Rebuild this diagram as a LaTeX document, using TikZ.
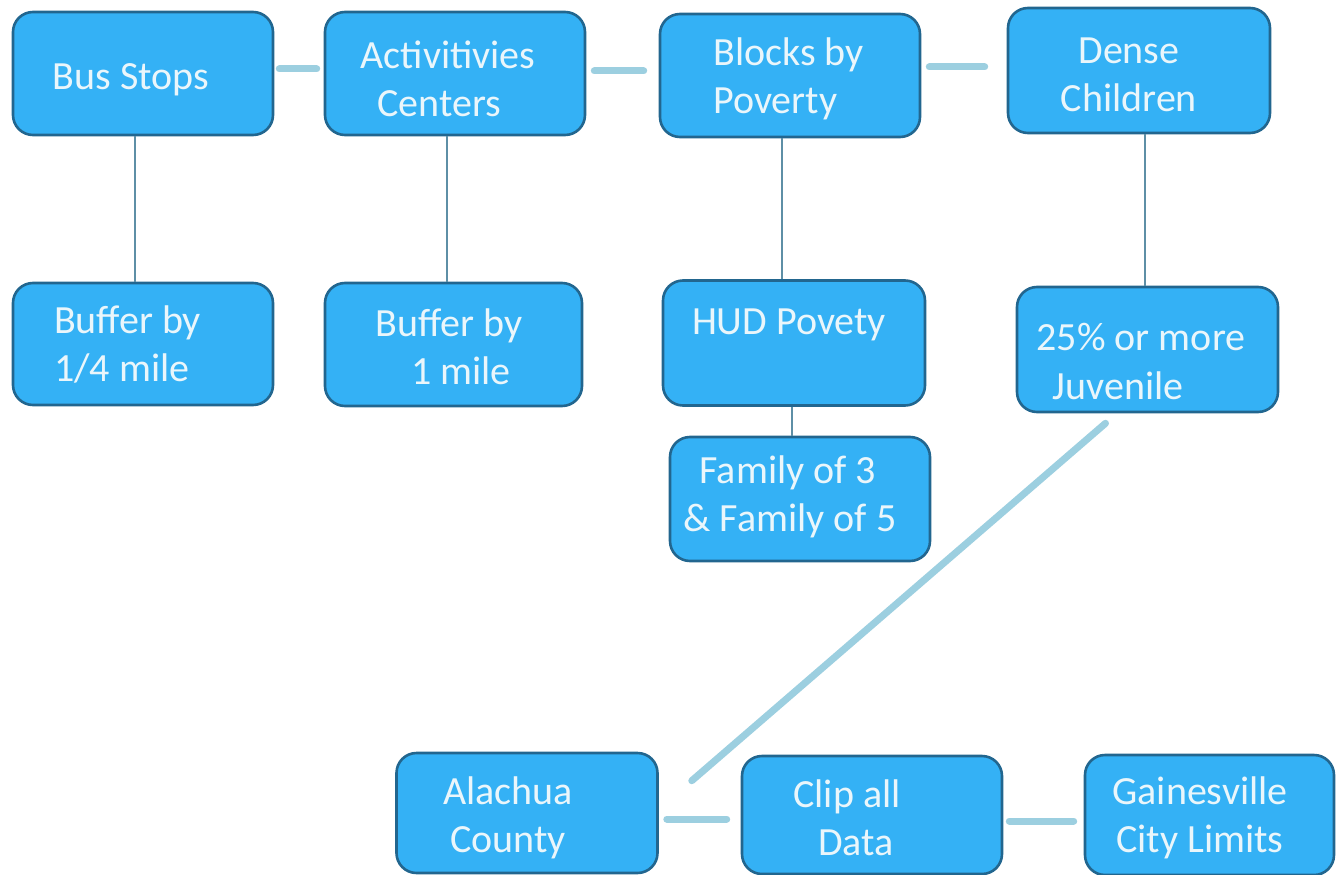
\documentclass[tikz,border=0pt]{standalone}
\usepackage{fontspec}
\setmainfont{Carlito}
\definecolor{boxfill}{HTML}{34B1F5}
\definecolor{boxedge}{HTML}{22668F}
\definecolor{boxtext}{HTML}{EAF6FB}
\definecolor{thicklink}{HTML}{9CCFE0}
\definecolor{thinlink}{HTML}{5E8FA6}
\tikzset{
  box/.style={draw=boxedge, line width=2.6pt, fill=boxfill, rounded corners=20pt, inner sep=0pt},
  txt/.style={text=boxtext, font=\fontsize{40}{48}\selectfont, inner sep=0pt},
  thick link/.style={draw=thicklink, line width=7pt, line cap=round},
  thin link/.style={draw=thinlink, line width=1.5pt}
}
\begin{document}
\begin{tikzpicture}[x=1pt, y=-1pt]
\useasboundingbox (0,0) rectangle (1336,875);
\fill[white] (0,0) rectangle (1336,875);
% top row
\node[box, minimum width=260pt, minimum height=123pt,
  label={[txt, shift={(-12,6.5)}]center:Bus Stops}] (bus) at (143,73.5) {};
\node[box, minimum width=260pt, minimum height=123pt,
  label={[txt, align=left, shift={(-7,5.5)}]center:Activitivies\\\hspace*{17pt}Centers}] (act) at (455,73.5) {};
\node[box, minimum width=260pt, minimum height=123pt,
  label={[txt, align=left, shift={(-1.5,3.5)}]center:Blocks by\\Poverty}] (blk) at (790,75.5) {};
\node[box, minimum width=262pt, minimum height=125pt,
  label={[txt, align=center, shift={(-10,4.5)}]center:Dense\\Children}] (den) at (1139,70.5) {};
% second row
\node[box, minimum width=260pt, minimum height=122pt,
  label={[txt, align=left, shift={(-15.5,0)}]center:Buffer by\\1/4 mile}] (bufa) at (143,344) {};
\node[box, minimum width=257pt, minimum height=123pt,
  label={[txt, align=center, shift={(-4.5,2.5)}]center:Buffer by\\\hspace*{24pt}1 mile}] (bufb) at (453.5,344.5) {};
\node[box, minimum width=262pt, minimum height=125pt,
  label={[txt, shift={(-5,-18)}]center:HUD Povety}] (hud) at (794,343) {};
\node[box, minimum width=261pt, minimum height=125pt,
  label={[txt, align=left, shift={(-6.5,12)}]center:25\% or more\\\hspace*{16pt}Juvenile}] (juv) at (1147.5,349.5) {};
% third row
\node[box, minimum width=260pt, minimum height=124pt,
  label={[txt, align=left, shift={(-10,-2.5)}]center:\hspace*{16pt}Family of 3\\\& Family of 5}] (fam) at (800,499) {};
% bottom row
\node[box, minimum width=261pt, minimum height=120pt,
  label={[txt, align=center, shift={(-19,4.5)}]center:Alachua\\County}] (ala) at (527,813) {};
\node[box, minimum width=260pt, minimum height=118pt,
  label={[txt, align=center, shift={(-25,2.5)}]center:Clip all\\\hspace*{18pt}Data}] (clip) at (872,815) {};
\node[box, minimum width=249pt, minimum height=120pt,
  label={[txt, align=center, shift={(-9.5,2.5)}]center:Gainesville\\City Limits}] (gv) at (1209.5,815) {};
% thick connectors
\draw[thick link, shorten <=5pt, shorten >=7pt] ([yshift=4.5pt]bus.east) -- ([yshift=4.5pt]act.west);
\draw[thick link, shorten <=8pt, shorten >=15pt] ([yshift=2.5pt]act.east) -- ([yshift=2.5pt]act.east -| blk.west);
\draw[thick link, shorten <=8pt, shorten >=22pt] ([yshift=8.5pt]blk.east) -- ([yshift=8.5pt]blk.east -| den.west);
\draw[thick link, shorten <=8pt, shorten >=14pt] ([yshift=-6pt]ala.east) -- ([yshift=-6pt]ala.east -| clip.west);
\draw[thick link, shorten <=6pt, shorten >=10pt] ([yshift=-6pt]clip.east) -- ([yshift=-6pt]clip.east -| gv.west);
\draw[thick link] ([shift={(-42,10)}]juv.south) -- ([shift={(33,29)}]ala.north east);
% thin connectors
\draw[thin link] ([xshift=-8pt]bus.south) -- ([xshift=-8pt]bufa.north);
\draw[thin link] ([xshift=-8pt]act.south) -- ([xshift=-6.5pt]bufb.north);
\draw[thin link] ([xshift=-8pt]blk.south) -- ([xshift=-12pt]hud.north);
\draw[thin link] ([xshift=6pt]den.south) -- ([xshift=-2.5pt]juv.north);
\draw[thin link] ([xshift=-2pt]hud.south) -- ([xshift=-8pt]fam.north);
\end{tikzpicture}
\end{document}
